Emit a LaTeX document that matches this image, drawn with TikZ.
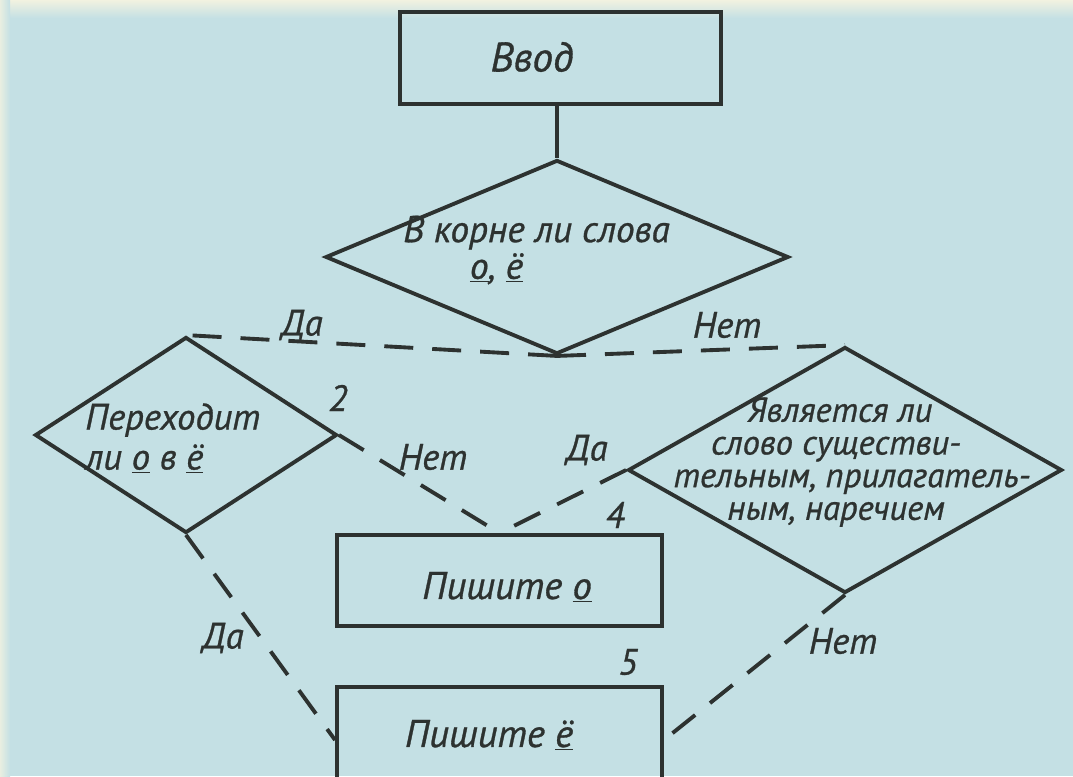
\documentclass[tikz,border=0pt]{standalone}
\usepackage{fontspec}
\setmainfont{PT Sans}[ItalicFeatures={FakeBold=0.8}]
\usetikzlibrary{shapes.geometric}
\definecolor{bg}{RGB}{196,224,228}
\definecolor{ink}{RGB}{45,50,48}
\definecolor{paper}{RGB}{242,242,224}
\begin{document}
\begin{tikzpicture}[x=0.75pt,y=-0.75pt,
  every node/.style={font=\fontsize{27.5}{25}\selectfont\itshape, text=ink},
  box/.style={draw=ink, line width=2.9pt, rectangle, inner sep=0pt},
  dia/.style={draw=ink, line width=2.9pt, diamond, inner sep=0pt},
  link/.style={draw=ink, line width=2.9pt},
  dashlink/.style={link, dash pattern=on 21.75pt off 14.25pt},
  lbl/.style={inner sep=0pt}]
\clip (0,0) rectangle (1073,776);
\fill[bg] (0,0) rectangle (1073,776);
\shade[top color=paper, bottom color=bg] (0,0) rectangle (1073,18);
\shade[left color=paper!80!bg, right color=bg] (0,0) rectangle (10,776);

% shapes
\node[box, minimum width=240.75pt, minimum height=69pt] (vvod) at (560.5,58) {};
\node[dia, minimum width=347.25pt, minimum height=145.5pt] (d1) at (557,257) {};
\node[dia, minimum width=226.5pt, minimum height=147pt] (d2) at (186,435) {};
\node[dia, minimum width=325.5pt, minimum height=184.5pt] (d3) at (845,470) {};
\node[box, minimum width=243.75pt, minimum height=68.25pt] (b4) at (499.5,580.5) {};
\node[box, minimum width=243.75pt, minimum height=79.5pt] (b5) at (499.5,740) {};

% texts
\node[lbl, font=\fontsize{31}{25}\selectfont\itshape] (vvodt) at (532,57) {Ввод};
\node[lbl, anchor=west, align=left, font=\fontsize{28}{27.5}\selectfont\itshape] (d1t) at (403,250)
  {В корне ли слова\\\hspace*{50pt}\underline{о}, \underline{ё}};
\node[lbl, anchor=west, align=left, font=\fontsize{27.5}{30}\selectfont\itshape] (d2t) at (85,438)
  {Переходит\\ли \underline{о} в \underline{ё}};
\node[lbl, align=center, font=\fontsize{26}{24.5}\selectfont\itshape] (d3t) at (836,462)
  {\hspace*{6pt}Является ли\\слово существи-\hspace*{27pt}\\\hspace*{24pt}тельным, прилагатель-\\ным, наречием};
\node[lbl, font=\fontsize{29}{25}\selectfont\itshape] (b4t) at (507,587) {Пишите \underline{о}};
\node[lbl, font=\fontsize{29}{25}\selectfont\itshape] (b5t) at (489,735) {Пишите \underline{ё}};

% connectors
\draw[link] (d1.north |- vvod.south) -- (d1.north);
\draw[dashlink] (d1.south) -- (d2.north);
\draw[dashlink] (d1.south) -- (d3.north);
\draw[dashlink] (d2.east) -- (b4.north);
\draw[dashlink] (d3.west) -- (b4.north);
\draw[dashlink] (d2.south) -- (b5.west);
\draw[dashlink] (d3.south) -- (b5.east);

% labels
\node[lbl] (l1) at (302,325) {Да};
\node[lbl] (l2) at (727,325) {Нет};
\node[lbl] (l3) at (433,457) {Нет};
\node[lbl] (l4) at (587,450) {Да};
\node[lbl] (l5) at (223,638) {Да};
\node[lbl] (l6) at (843,641) {Нет};
\node[lbl] (n2) at (338,398) {2};
\node[lbl] (n4) at (615,515) {4};
\node[lbl] (n5) at (628,662) {5};
\end{tikzpicture}
\end{document}
